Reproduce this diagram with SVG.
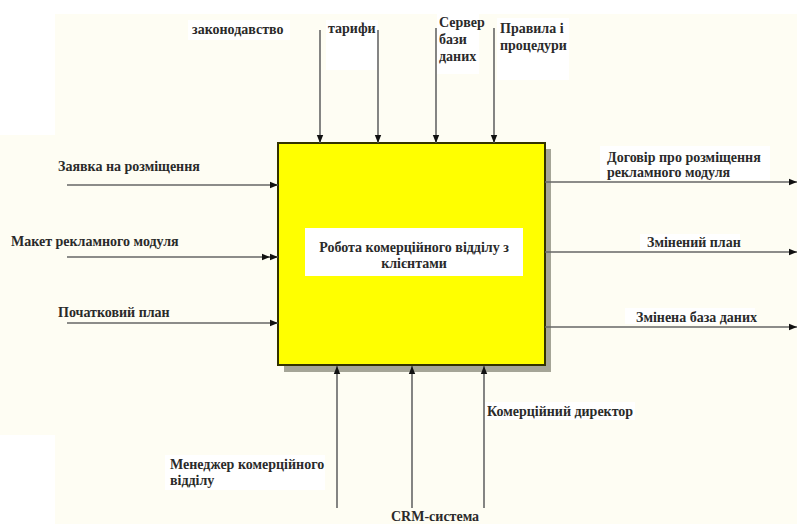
<svg xmlns="http://www.w3.org/2000/svg" width="797" height="524" viewBox="0 0 797 524">
<defs>
<style>
.lbl{font-family:"Liberation Serif","DejaVu Serif",serif;font-size:14px;font-weight:bold;fill:#2a2a2a}
.ln{stroke:#666;stroke-width:1.6;fill:none}
.lbg{fill:#ffffff}
</style>
<marker id="ah" viewBox="0 0 10 10" refX="10" refY="5" markerWidth="8" markerHeight="8" markerUnits="userSpaceOnUse" orient="auto">
<path d="M0,1 L10,5 L0,9 Z" fill="#111"/>
</marker>
<marker id="ah2" viewBox="0 0 20 10" refX="20" refY="5" markerWidth="16" markerHeight="8" markerUnits="userSpaceOnUse" orient="auto">
<path d="M0,1 L10,5 L0,9 Z M10,1 L20,5 L10,9 Z" fill="#111"/>
</marker>
</defs>
<rect x="0" y="0" width="797" height="524" fill="#ffffff"/>
<rect x="55" y="14" width="742" height="510" fill="#fefdf3"/>
<rect x="0" y="135" width="240" height="300" fill="#fefdf3"/>

<g id="labels-bg">
<rect class="lbg" x="188" y="20" width="102" height="20"/>
<rect class="lbg" x="326" y="20" width="52" height="50"/>
<rect class="lbg" x="437" y="14" width="42" height="60"/>
<rect class="lbg" x="497" y="18" width="72" height="62"/>
<rect class="lbg" x="600" y="146" width="170" height="34"/>
<rect class="lbg" x="640" y="234" width="100" height="16"/>
<rect class="lbg" x="625" y="308" width="130" height="16"/>
<rect class="lbg" x="485" y="402" width="150" height="18"/>
<rect class="lbg" x="165" y="455" width="160" height="35"/>
</g>

<g id="node-main">
<rect x="284" y="149" width="267" height="223" fill="#a5a597"/>
<rect x="278" y="143" width="267" height="222" fill="#ffff00" stroke="#333300" stroke-width="2"/>
<rect x="305" y="228" width="218" height="48" fill="#ffffff"/>
<text class="lbl" x="414" y="252" text-anchor="middle">Робота комерційного відділу з</text>
<text class="lbl" x="414" y="268" text-anchor="middle">клієнтами</text>
</g>

<g id="connectors">
<line class="ln" x1="320" y1="30" x2="320" y2="143" marker-end="url(#ah)"/>
<line class="ln" x1="378" y1="30" x2="378" y2="143" marker-end="url(#ah)"/>
<line class="ln" x1="436" y1="28" x2="436" y2="143" marker-end="url(#ah)"/>
<line class="ln" x1="494" y1="28" x2="494" y2="143" marker-end="url(#ah)"/>
<line class="ln" x1="67" y1="185" x2="278" y2="185" marker-end="url(#ah)"/>
<line class="ln" x1="67" y1="257" x2="278" y2="257" marker-end="url(#ah2)"/>
<line class="ln" x1="67" y1="323" x2="278" y2="323" marker-end="url(#ah)"/>
<line class="ln" x1="545" y1="182" x2="797" y2="182" marker-end="url(#ah)"/>
<line class="ln" x1="545" y1="252" x2="797" y2="252" marker-end="url(#ah)"/>
<line class="ln" x1="545" y1="327" x2="797" y2="327" marker-end="url(#ah)"/>
<line class="ln" x1="337" y1="508" x2="337" y2="366" marker-end="url(#ah)"/>
<line class="ln" x1="412" y1="508" x2="412" y2="366" marker-end="url(#ah)"/>
<line class="ln" x1="484" y1="508" x2="484" y2="366" marker-end="url(#ah)"/>
</g>

<g id="label-top">
<text class="lbl" x="192" y="34">законодавство</text>
<text class="lbl" x="328" y="33">тарифи</text>
<text class="lbl" x="439" y="27">Сервер</text>
<text class="lbl" x="439" y="44">бази</text>
<text class="lbl" x="439" y="61">даних</text>
<text class="lbl" x="500" y="33">Правила і</text>
<text class="lbl" x="500" y="50">процедури</text>
</g>
<g id="label-left">
<text class="lbl" x="58" y="171">Заявка на розміщення</text>
<text class="lbl" x="11" y="246">Макет рекламного модуля</text>
<text class="lbl" x="58" y="317">Початковий план</text>
</g>
<g id="label-right">
<text class="lbl" x="607" y="162">Договір про розміщення</text>
<text class="lbl" x="607" y="177">рекламного модуля</text>
<text class="lbl" x="647" y="247">Змінений план</text>
<text class="lbl" x="636" y="322">Змінена база даних</text>
</g>
<g id="label-bottom">
<text class="lbl" x="487" y="416">Комерційний директор</text>
<text class="lbl" x="170" y="469">Менеджер комерційного</text>
<text class="lbl" x="170" y="485">відділу</text>
<text class="lbl" x="391" y="521">CRM-система</text>
</g>
</svg>
